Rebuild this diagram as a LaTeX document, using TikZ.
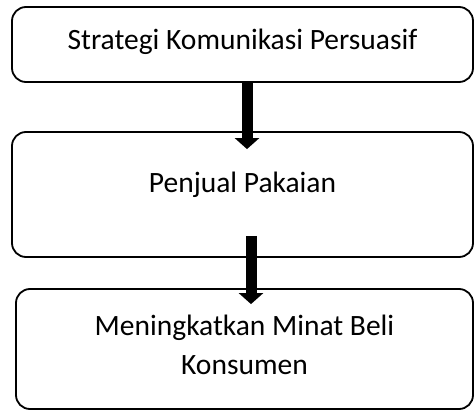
\documentclass[tikz,border=0pt]{standalone}
\usepackage{fontspec}
\setmainfont{Carlito}
\usetikzlibrary{arrows.meta,positioning}

\begin{document}
\begin{tikzpicture}[x=1pt, y=1pt,
    box/.style={rectangle, draw, line width=1.8pt, rounded corners=14pt, inner sep=0pt, align=center, font=\fontsize{29.5}{39}\selectfont},
    bigarrow/.style={line width=11pt, -{Triangle[width=24pt,length=11pt]}}]

    \useasboundingbox (0,0) rectangle (474,-412);

    % Boxes
    \node[box, minimum width=461pt, minimum height=75pt, text height=20pt, text depth=9pt] (strategi) at (242.5,-44.5) {Strategi Komunikasi Persuasif};
    \node[box, minimum width=461pt, minimum height=125pt, text height=20pt, text depth=25pt] (penjual) at (242.5,-194.5) {Penjual Pakaian};
    \node[box, minimum width=457pt, minimum height=120pt, text height=60pt, text depth=10pt] (minat) at (244.5,-349) {Meningkatkan Minat Beli\\Konsumen};

    % Arrows
    \draw[bigarrow] ([xshift=4.5pt]strategi.south) -- ([xshift=4.5pt,yshift=-18pt]penjual.north);
    \draw[bigarrow] ([xshift=8.5pt,yshift=22pt]penjual.south) -- ([xshift=6.5pt,yshift=-16pt]minat.north);
\end{tikzpicture}
\end{document}
